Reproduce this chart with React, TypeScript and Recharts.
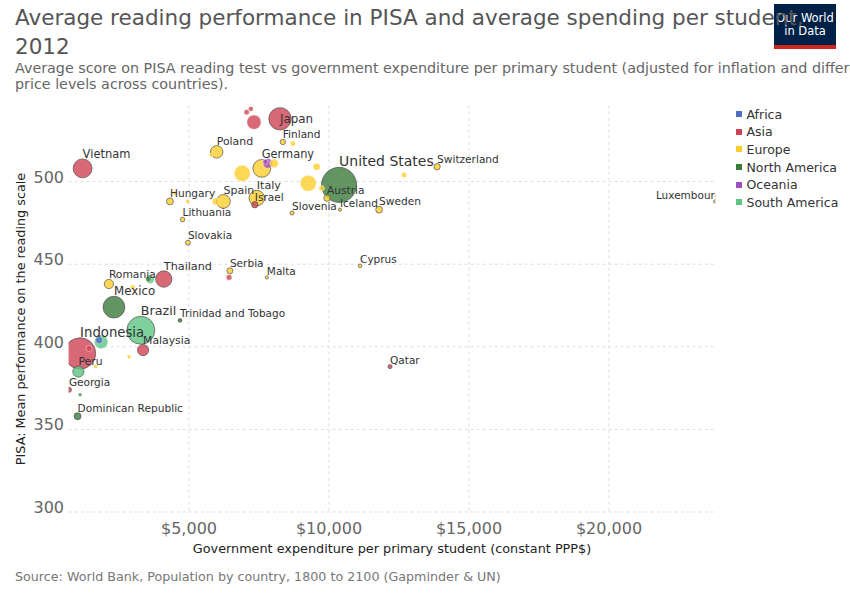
import { ScatterChart, Scatter, XAxis, YAxis, ZAxis, CartesianGrid } from "recharts";

// PISA 2012 reading score vs spending per primary student, bubble = population (millions)
const countries = [
  "Vietnam", "Japan", "South Korea", "Hong Kong", "Singapore", "Israel", "United Arab Emirates",
  "Thailand", "Malaysia", "Indonesia", "Jordan", "Georgia", "Qatar",
  "Finland", "Ireland", "Poland", "Estonia", "Germany", "France", "Netherlands", "Belgium",
  "United Kingdom", "Denmark", "Austria", "Iceland", "Sweden", "Norway", "Switzerland",
  "Slovenia", "Italy", "Spain", "Portugal", "Latvia", "Czechia", "Hungary", "Lithuania",
  "Slovakia", "Serbia", "Malta", "Romania", "Bulgaria", "Cyprus", "Luxembourg", "Albania",
  "Moldova", "Australia", "New Zealand", "United States", "Mexico", "Trinidad and Tobago",
  "Costa Rica", "Panama", "Dominican Republic", "Brazil", "Chile", "Colombia", "Peru", "Tunisia",
];

const continentOf = [
  "Asia", "Asia", "Asia", "Asia", "Asia", "Asia", "Asia",
  "Asia", "Asia", "Asia", "Asia", "Asia", "Asia",
  "Europe", "Europe", "Europe", "Europe", "Europe", "Europe", "Europe", "Europe",
  "Europe", "Europe", "Europe", "Europe", "Europe", "Europe", "Europe",
  "Europe", "Europe", "Europe", "Europe", "Europe", "Europe", "Europe", "Europe",
  "Europe", "Europe", "Europe", "Europe", "Europe", "Europe", "Europe", "Europe",
  "Europe", "Oceania", "Oceania", "North America", "North America", "North America",
  "North America", "North America", "North America", "South America", "South America", "South America", "South America", "Africa",
];

const spending = [
  1200, 8250, 7320, 7210, 7060, 7350, 6430,
  4100, 3360, 1110, 1430, 710, 12180,
  8350, 8710, 5990, 5790, 7600, 6900, 8040, 9560,
  9260, 9740, 9930, 10390, 11790, 12680, 13860,
  8680, 7420, 6230, 5960, 4950, 4500, 4320, 4770,
  4960, 6460, 7780, 2140, 2990, 11110, 23790, 2860,
  1670, 7820, 7730, 10360, 2320, 4680,
  3550, 1110, 1020, 3280, 3610, 1860, 1050, 1790,
];

const readingScore = [
  508, 538, 536, 544, 542, 486, 442,
  441, 398, 396, 399, 374, 388,
  524, 523, 518, 516, 508, 505, 511, 509,
  499, 496, 490, 483, 483, 504, 509,
  481, 490, 488, 488, 488, 493, 488, 477,
  463, 446, 442, 438, 436, 449, 488, 394,
  388, 511, 512, 498, 424, 416,
  441, 371, 358, 410, 441, 403, 385, 404,
];

const population = [
  90, 127, 50, 4, 5, 8, 6,
  67, 30, 250, 7, 4.5, 2.1,
  5.4, 4.6, 38, 1.3, 80, 65, 16.8, 11,
  64, 5.6, 8.5, 0.32, 9.6, 5.1, 8.1,
  2.06, 60, 47, 10.5, 2, 3, 9.9, 3,
  4, 7.2, 0.42, 20, 4, 1.1, 0.54, 1.5,
  2, 23, 4.4, 316, 120, 1.3,
  4.8, 1, 10.3, 200, 17.6, 47, 30, 10.9,
];

const labelled = [
  "Vietnam", "Japan", "Finland", "Poland", "Germany", "United States", "Switzerland",
  "Austria", "Iceland", "Sweden", "Slovenia", "Italy", "Israel", "Spain", "Hungary",
  "Lithuania", "Slovakia", "Serbia", "Malta", "Thailand", "Romania", "Mexico",
  "Trinidad and Tobago", "Brazil", "Malaysia", "Indonesia", "Peru", "Georgia",
  "Dominican Republic", "Cyprus", "Qatar", "Luxembourg",
];

const continents = ["Africa", "Asia", "Europe", "North America", "Oceania", "South America"];
const xTicks = [5000, 10000, 15000, 20000];
const yTicks = [300, 350, 400, 450, 500];
const xDomain = [700, 23800];
const yDomain = [300, 546];

const colors: Record<string, string> = {
  Africa: "#4c6fc4",
  Asia: "#cf4455",
  Europe: "#fdcd2c",
  "North America": "#3b7a3b",
  Oceania: "#a24fc2",
  "South America": "#5ec583",
};

const W = 850;
const H = 600;
const PLOT_TOP = 105.6;
const MARGIN = { top: PLOT_TOP, right: 134.6, bottom: 58, left: 0 };
const LABEL_RIGHT = W - MARGIN.right + 6;
const FONT = "'DejaVu Sans', sans-serif";

const rows = countries
  .map((name, i) => ({
    name,
    continent: continentOf[i],
    spend: spending[i],
    score: readingScore[i],
    pop: population[i],
    labelled: labelled.includes(name),
  }))
  .sort((a, b) => b.pop - a.pop);

function radiusOf(props: any) {
  if (typeof props.size === "number") return Math.sqrt(props.size / Math.PI);
  return (props.width || 0) / 2;
}

function Bubble(props: any) {
  const { cx, cy, payload } = props;
  const r = radiusOf(props);
  return (
    <circle
      cx={cx}
      cy={cy}
      r={r}
      fill={colors[payload.continent]}
      fillOpacity={0.8}
      stroke={payload.labelled ? "#444" : "#fff"}
      strokeWidth={payload.labelled ? 0.7 : 0.6}
      strokeOpacity={payload.labelled ? 0.9 : 0.7}
    />
  );
}

function PointLabel(props: any) {
  const { cx, cy, payload } = props;
  if (!payload.labelled) return <g />;
  const r = radiusOf(props);
  const fs = 10.5 + 0.011 * payload.pop;
  let y = cy - r - 1;
  // no room above the plot top: put the name beside the point instead
  if (y - fs * 0.76 < PLOT_TOP) y = cy + fs * 0.36;
  const w = payload.name.length * fs * 0.6;
  const overflow = cx + w > LABEL_RIGHT;
  return (
    <text
      x={overflow ? LABEL_RIGHT : cx}
      y={y}
      textAnchor={overflow ? "end" : "start"}
      fontSize={fs}
      fontFamily={FONT}
      fill="#333"
    >
      {payload.name}
    </text>
  );
}

function XTick({ x, y, payload }: any) {
  return (
    <text x={x} y={y + 22} textAnchor="middle" fontSize={16} fontFamily={FONT} fill="#666">
      ${payload.value.toLocaleString("en-US")}
    </text>
  );
}

function YTick({ x, y, payload }: any) {
  return (
    <text x={x - 4.6} y={y + 1} textAnchor="end" fontSize={16} fontFamily={FONT} fill="#666">
      {payload.value}
    </text>
  );
}

// grid lines only at the tick values, not at the plot edges
function gridX({ xAxis, offset }: any) {
  return xTicks.map((t) =>
    xAxis && typeof xAxis.scale === "function"
      ? xAxis.scale(t)
      : offset.left + ((t - xDomain[0]) / (xDomain[1] - xDomain[0])) * offset.width
  );
}

function gridY({ yAxis, offset }: any) {
  return yTicks.map((t) =>
    yAxis && typeof yAxis.scale === "function"
      ? yAxis.scale(t)
      : offset.top + ((yDomain[1] - t) / (yDomain[1] - yDomain[0])) * offset.height
  );
}

export default function App() {
  return (
    <div
      style={{
        position: "absolute",
        left: 0,
        top: 0,
        width: W,
        height: H,
        overflow: "hidden",
        background: "#fff",
        fontFamily: FONT,
      }}
    >
      <div style={{ position: "absolute", left: 774, top: 4, width: 62, height: 45, background: "#002147", color: "#fff", textAlign: "center", fontSize: 11.5, lineHeight: "13px" }}>
        <div style={{ paddingTop: 8 }}>Our World</div>
        <div>in Data</div>
        <div style={{ position: "absolute", left: 0, bottom: 0, width: 62, height: 4, background: "#ce261e" }} />
      </div>

      <div style={{ position: "absolute", left: 15, top: 2.5, fontSize: 21.5, lineHeight: "29px", color: "#555", whiteSpace: "nowrap" }}>
        Average reading performance in PISA and average spending per student,
        <br />
        2012
      </div>
      <div style={{ position: "absolute", left: 15, top: 60, fontSize: 14.3, lineHeight: "16px", color: "#666", whiteSpace: "nowrap" }}>
        Average score on PISA reading test vs government expenditure per primary student (adjusted for inflation and differences in
        <br />
        price levels across countries).
      </div>

      <div style={{ position: "absolute", left: 0, top: 0 }}>
        <ScatterChart width={W} height={H} margin={MARGIN}>
          <CartesianGrid
            stroke="#ddd"
            strokeDasharray="3 3"
            verticalCoordinatesGenerator={gridX}
            horizontalCoordinatesGenerator={gridY}
          />
          <XAxis
            type="number"
            dataKey="spend"
            domain={xDomain}
            allowDataOverflow
            ticks={xTicks}
            axisLine={false}
            tickLine={false}
            tickSize={0}
            tickMargin={0}
            height={30}
            tick={<XTick />}
            label={{
              content: ({ viewBox }: any) => (
                <text
                  x={viewBox.x + viewBox.width / 2}
                  y={viewBox.y + 41}
                  textAnchor="middle"
                  fontSize={12.8}
                  fontFamily={FONT}
                  fill="#222"
                >
                  Government expenditure per primary student (constant PPP$)
                </text>
              ),
            }}
          />
          <YAxis
            type="number"
            dataKey="score"
            domain={yDomain}
            allowDataOverflow
            ticks={yTicks}
            axisLine={false}
            tickLine={false}
            tickSize={0}
            tickMargin={0}
            width={68.6}
            tick={<YTick />}
            label={{
              content: () => (
                <text
                  x={24.5}
                  y={319}
                  textAnchor="middle"
                  fontSize={12.8}
                  fontFamily={FONT}
                  fill="#222"
                  transform="rotate(-90, 24.5, 319)"
                >
                  PISA: Mean performance on the reading scale
                </text>
              ),
            }}
          />
          <ZAxis type="number" dataKey="pop" domain={[0, 320]} range={[7, 980]} />
          <Scatter data={rows} shape={<Bubble />} isAnimationActive={false} />
          <Scatter data={rows} shape={<PointLabel />} isAnimationActive={false} />
        </ScatterChart>
      </div>

      <div style={{ position: "absolute", left: 735.5, top: 105.5, fontSize: 12.5, color: "#333" }}>
        {continents.map((c) => (
          <div key={c} style={{ display: "flex", alignItems: "center", height: 17.6 }}>
            <div style={{ width: 6, height: 6, background: colors[c], marginRight: 5 }} />
            <span>{c}</span>
          </div>
        ))}
      </div>

      <div style={{ position: "absolute", left: 15, top: 569, fontSize: 12.7, color: "#777" }}>
        Source: World Bank, Population by country, 1800 to 2100 (Gapminder &amp; UN)
      </div>
    </div>
  );
}
